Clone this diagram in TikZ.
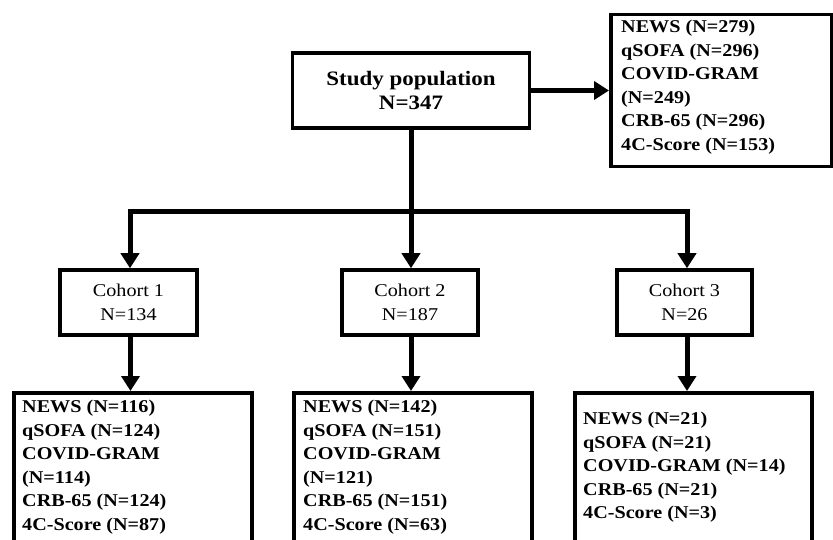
\documentclass[tikz,border=0pt]{standalone}
\usepackage{fontspec}
\setmainfont{Liberation Serif}[FakeStretch=1.12]
\usetikzlibrary{arrows.meta}
\begin{document}
\begin{tikzpicture}[x=1pt,y=-1pt,
  box/.style={draw=black, line width=3.5pt, fill=white, inner sep=0pt},
  bigtxt/.style={font=\fontsize{20.5}{24}\selectfont\bfseries, align=center},
  cohtxt/.style={font=\fontsize{18}{24}\selectfont, align=center},
  listtxt/.style={font=\fontsize{18}{23.5}\selectfont\bfseries, align=left, inner sep=0pt, anchor=north west},
  conn/.style={line width=5pt, line join=miter},
  arr/.style={conn, -{Triangle[width=18pt,length=15pt]}}
]
\useasboundingbox (0,0) rectangle (833,540);
\clip (0,0) rectangle (833,540);

% boxes
\node[box, minimum width=237pt, minimum height=75pt] (study) at (411,90.5) {};
\node[bigtxt] (studyt) at (study.center) {Study population\\N=347};

\node[box, minimum width=221pt, minimum height=152pt, anchor=north west] (rb) at (609,13) {};
\node[listtxt] (rbt) at ([xshift=12pt,yshift=-7pt]rb.north west)
  {NEWS (N=279)\\qSOFA (N=296)\\COVID-GRAM\\(N=249)\\CRB-65 (N=296)\\4C-Score (N=153)};

\node[box, minimum width=137pt, minimum height=65pt] (c1) at (128.5,302.5) {};
\node[cohtxt] (c1t) at (c1.center) {Cohort 1\\N=134};
\node[box, minimum width=136pt, minimum height=65pt] (c2) at (410,302.5) {};
\node[cohtxt] (c2t) at (c2.center) {Cohort 2\\N=187};
\node[box, minimum width=135pt, minimum height=65pt] (c3) at (684.5,302.5) {};
\node[cohtxt] (c3t) at (c3.center) {Cohort 3\\N=26};

\node[box, minimum width=238pt, minimum height=180pt, anchor=north west] (b1) at (12,391) {};
\node[listtxt] (b1t) at ([xshift=10pt,yshift=-9pt]b1.north west)
  {NEWS (N=116)\\qSOFA (N=124)\\COVID-GRAM\\(N=114)\\CRB-65 (N=124)\\4C-Score (N=87)};
\node[box, minimum width=238pt, minimum height=180pt, anchor=north west] (b2) at (292,391) {};
\node[listtxt] (b2t) at ([xshift=11pt,yshift=-9pt]b2.north west)
  {NEWS (N=142)\\qSOFA (N=151)\\COVID-GRAM\\(N=121)\\CRB-65 (N=151)\\4C-Score (N=63)};
\node[box, minimum width=237pt, minimum height=180pt, anchor=north west] (b3) at (573,391) {};
\node[listtxt] (b3t) at ([xshift=10pt,yshift=-21pt]b3.north west)
  {NEWS (N=21)\\qSOFA (N=21)\\COVID-GRAM (N=14)\\CRB-65 (N=21)\\4C-Score (N=3)};

% connectors
\coordinate (split) at (411,212);
\draw[arr] (study.east) -- (study.east -| rb.west);
\draw[conn] (study.south) -- (split);
\draw[arr] (split) -| ([xshift=1.5pt]c1.north);
\draw[arr] (split) -- (split |- c2.north);
\draw[arr] (split) -| ([xshift=2.5pt]c3.north);
\draw[arr] ([xshift=2pt]c1.south) -- ([xshift=2pt]c1.south |- b1.north);
\draw[arr] ([xshift=1pt]c2.south) -- ([xshift=1pt]c2.south |- b2.north);
\draw[arr] ([xshift=2.5pt]c3.south) -- ([xshift=2.5pt]c3.south |- b3.north);
\end{tikzpicture}
\end{document}
